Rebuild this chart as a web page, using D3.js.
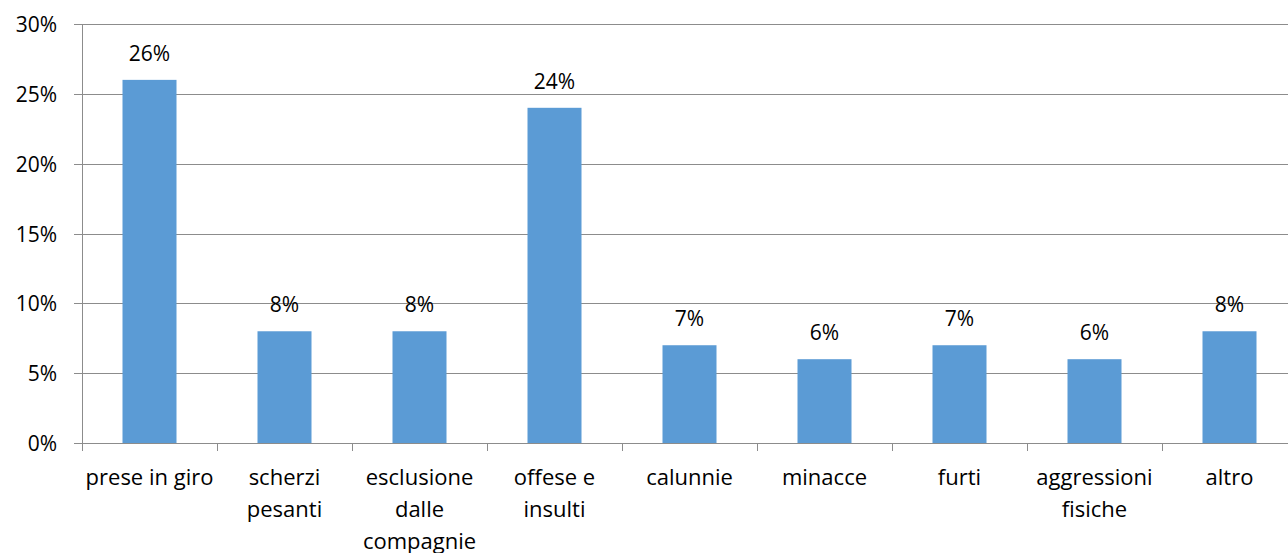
<!DOCTYPE html>
<html>
<head>
<meta charset="utf-8">
<script src="https://cdn.jsdelivr.net/npm/d3@7"></script>
<style>
  body { margin: 0; background: #fff; }
  text { font-family: "Open Sans", "Liberation Sans", sans-serif; fill: #000; }
</style>
</head>
<body>
<svg width="1288" height="553"></svg>
<script>
// data
var categories = [
    ["prese in giro"],
    ["scherzi", "pesanti"],
    ["esclusione", "dalle", "compagnie"],
    ["offese e", "insulti"],
    ["calunnie"],
    ["minacce"],
    ["furti"],
    ["aggressioni", "fisiche"],
    ["altro"]
]
var values = [0.26, 0.08, 0.08, 0.24, 0.07, 0.06, 0.07, 0.06, 0.08]
var yTicks = [0, 0.05, 0.10, 0.15, 0.20, 0.25, 0.30]

var svg = d3.select("svg")
var plotLeft = 82, plotRight = 1297, plotTop = 24, plotBottom = 443

var xScale = d3.scaleBand()
    .domain(d3.range(values.length))
    .range([plotLeft, plotRight])
    .padding(0)
var yScale = d3.scaleLinear()
    .domain([0, 0.30])
    .range([plotBottom, plotTop])

var barW = xScale.bandwidth() * 0.4
var pct = d3.format('.0%')

// gridlines
svg.append('g').selectAll('line')
    .data(yTicks)
    .enter()
    .append('line')
    .attr('x1', plotLeft - 8)
    .attr('x2', 1288)
    .attr('y1', d => Math.round(yScale(d)) + 0.5)
    .attr('y2', d => Math.round(yScale(d)) + 0.5)
    .style('stroke', '#8c8c8c')
    .style('stroke-width', 1)

// y tick labels
svg.append('g').selectAll('text')
    .data(yTicks)
    .enter()
    .append('text')
    .attr('x', 57)
    .attr('y', d => yScale(d) + 8)
    .attr('text-anchor', 'end')
    .style('font-size', '21px')
    .text(d => pct(d))

// y axis line
svg.append('line')
    .attr('x1', plotLeft + 0.5).attr('x2', plotLeft + 0.5)
    .attr('y1', plotTop).attr('y2', plotBottom + 8)
    .style('stroke', '#8c8c8c')

// x ticks between categories
svg.append('g').selectAll('line')
    .data(d3.range(1, values.length))
    .enter()
    .append('line')
    .attr('x1', d => Math.round(xScale(d)) + 0.5)
    .attr('x2', d => Math.round(xScale(d)) + 0.5)
    .attr('y1', plotBottom)
    .attr('y2', plotBottom + 8)
    .style('stroke', '#8c8c8c')

// bars
svg.append('g').selectAll('rect')
    .data(values)
    .enter()
    .append('rect')
    .attr('x', (d, i) => xScale(i) + xScale.bandwidth() / 2 - barW / 2)
    .attr('y', d => yScale(d))
    .attr('width', barW)
    .attr('height', d => yScale(0) - yScale(d))
    .style('fill', '#5b9bd5')

// value labels
svg.append('g').selectAll('text')
    .data(values)
    .enter()
    .append('text')
    .attr('x', (d, i) => xScale(i) + xScale.bandwidth() / 2)
    .attr('y', d => yScale(d) - 19)
    .attr('text-anchor', 'middle')
    .style('font-size', '21px')
    .text(d => pct(d))

// category labels
var cat = svg.append('g').selectAll('text')
    .data(categories)
    .enter()
    .append('text')
    .attr('text-anchor', 'middle')
    .style('font-size', '22px')
cat.each(function(lines, i) {
    d3.select(this).selectAll('tspan')
        .data(lines)
        .enter()
        .append('tspan')
        .attr('x', xScale(i) + xScale.bandwidth() / 2)
        .attr('y', (d, j) => 485 + j * 32)
        .text(d => d)
})
</script>
</body>
</html>
